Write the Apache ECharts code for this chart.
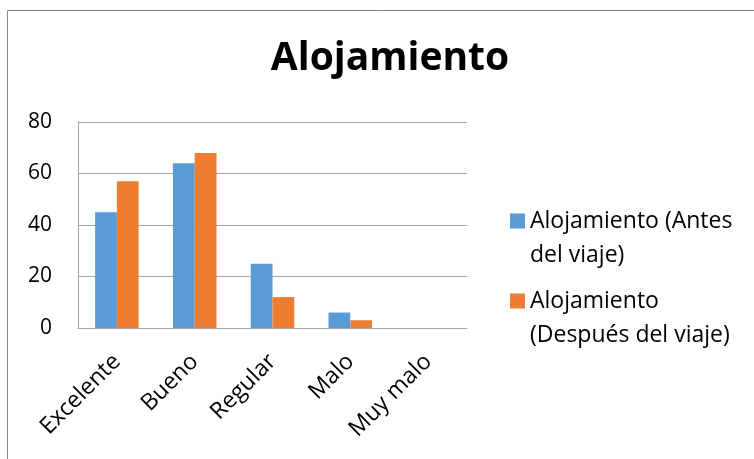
<!DOCTYPE html>
<html>
<head>
<meta charset="utf-8">
<script src="https://cdn.jsdelivr.net/npm/echarts@6/dist/echarts.min.js"></script>
<style>
  html, body { margin: 0; padding: 0; background: #fff; }
  #chart { width: 754px; height: 459px; }
</style>
</head>
<body>
<div id="chart"></div>
<script>
// Valoración del alojamiento antes y después del viaje
const categories = ['Excelente', 'Bueno', 'Regular', 'Malo', 'Muy malo'];
const antesViaje = [45, 64, 25, 6, 0];
const despuesViaje = [57, 68, 12, 3, 0];
const seriesNames = ['Alojamiento (Antes del viaje)', 'Alojamiento (Después del viaje)'];
const legendLabels = ['Alojamiento (Antes\ndel viaje)', 'Alojamiento\n(Después del viaje)'];
const titleText = 'Alojamiento';

const FONT = '"Open Sans", "Noto Sans", sans-serif';
const LINE_H = 34;

// Legend swatch: a square sitting at the top of a tall, otherwise empty box,
// so the swatch lines up with the first line of a two-line label.
const SWATCH = 15;
const ICON_H = LINE_H + SWATCH;
const swatchIcon = 'path://M0,0L' + SWATCH + ',0L' + SWATCH + ',' + SWATCH + 'L0,' + SWATCH +
  'Z M0,' + ICON_H + 'L0.01,' + ICON_H + 'L0.01,' + (ICON_H - 0.01) + 'Z';

const chart = echarts.init(document.getElementById('chart'));
chart.setOption({
  backgroundColor: '#fff',
  animation: false,
  textStyle: { fontFamily: FONT },
  title: {
    text: titleText,
    left: 385,
    textAlign: 'center',
    top: 34,
    textStyle: { fontSize: 39, fontWeight: 'bold', color: '#000', fontFamily: FONT }
  },
  graphic: [{
    type: 'rect',
    shape: { x: 7.5, y: 10.5, width: 800, height: 500 },
    style: { fill: 'none', stroke: '#898989', lineWidth: 1 },
    silent: true
  }],
  legend: {
    orient: 'vertical',
    left: 510,
    top: 204,
    padding: 0,
    itemWidth: SWATCH,
    itemHeight: ICON_H,
    itemGap: 12,
    icon: swatchIcon,
    data: seriesNames,
    formatter: function (name) {
      return legendLabels[seriesNames.indexOf(name)];
    },
    textStyle: { fontSize: 23, color: '#000', lineHeight: LINE_H, fontFamily: FONT }
  },
  grid: { left: 78, right: 287, top: 122, bottom: 131, containLabel: false },
  xAxis: {
    type: 'category',
    data: categories,
    axisLine: { lineStyle: { color: '#a6a6a6' } },
    axisTick: { show: false },
    axisLabel: { rotate: 45, fontSize: 23, color: '#000', margin: 30, interval: 0 }
  },
  yAxis: {
    type: 'value',
    min: 0,
    max: 80,
    interval: 20,
    axisLine: { show: true, lineStyle: { color: '#a6a6a6' } },
    axisTick: { show: false },
    splitLine: { lineStyle: { color: '#a6a6a6' } },
    axisLabel: { fontSize: 21, color: '#000', margin: 26 }
  },
  series: [
    {
      name: seriesNames[0],
      type: 'bar',
      data: antesViaje,
      barGap: '0%',
      barCategoryGap: '44%',
      itemStyle: { color: '#5b9bd5' }
    },
    {
      name: seriesNames[1],
      type: 'bar',
      data: despuesViaje,
      itemStyle: { color: '#ed7d31' }
    }
  ]
});
</script>
</body>
</html>
